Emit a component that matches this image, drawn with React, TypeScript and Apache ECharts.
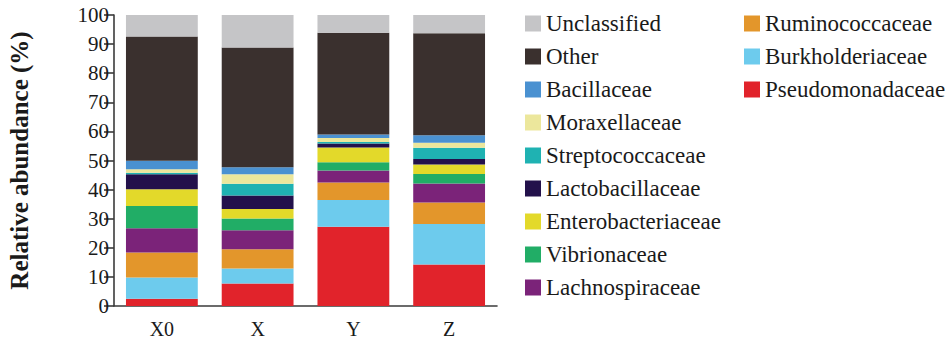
import React, { useEffect, useRef } from "react";
import * as echarts from "echarts";

// Samples on the x axis
const categories = ["X0", "X", "Y", "Z"];

// Relative abundance (%) per family, listed bottom of the stack to top
const pseudomonadaceae = [2.5, 7.7, 27.2, 14.3];
const burkholderiaceae = [7.3, 5.2, 9.2, 13.9];
const ruminococcaceae = [8.6, 6.6, 6.0, 7.4];
const lachnospiraceae = [8.3, 6.5, 4.2, 6.5];
const vibrionaceae = [7.7, 4.1, 2.8, 3.3];
const enterobacteriaceae = [5.7, 3.2, 5.1, 3.2];
const lactobacillaceae = [5.2, 4.7, 1.3, 1.9];
const streptococcaceae = [0.5, 4.0, 0.6, 3.9];
const moraxellaceae = [1.2, 3.3, 1.3, 1.7];
const bacillaceae = [2.9, 2.4, 1.2, 2.6];
const other = [42.7, 41.1, 35.0, 35.0];
const unclassified = [7.4, 11.2, 6.1, 6.3];

const yTicks = [0, 10, 20, 30, 40, 50, 60, 70, 80, 90, 100];

const stackSeries = [
  { name: "Pseudomonadaceae", data: pseudomonadaceae, color: "#e1232b" },
  { name: "Burkholderiaceae", data: burkholderiaceae, color: "#6dcbed" },
  { name: "Ruminococcaceae", data: ruminococcaceae, color: "#e3962b" },
  { name: "Lachnospiraceae", data: lachnospiraceae, color: "#7b2379" },
  { name: "Vibrionaceae", data: vibrionaceae, color: "#21ad66" },
  { name: "Enterobacteriaceae", data: enterobacteriaceae, color: "#e3d92a" },
  { name: "Lactobacillaceae", data: lactobacillaceae, color: "#23114b" },
  { name: "Streptococcaceae", data: streptococcaceae, color: "#1fb2b2" },
  { name: "Moraxellaceae", data: moraxellaceae, color: "#ece79c" },
  { name: "Bacillaceae", data: bacillaceae, color: "#4a91d1" },
  { name: "Other", data: other, color: "#3a302e" },
  { name: "Unclassified", data: unclassified, color: "#c5c5c7" },
];

const legendLeft = [
  "Unclassified",
  "Other",
  "Bacillaceae",
  "Moraxellaceae",
  "Streptococcaceae",
  "Lactobacillaceae",
  "Enterobacteriaceae",
  "Vibrionaceae",
  "Lachnospiraceae",
];
const legendRight = ["Ruminococcaceae", "Burkholderiaceae", "Pseudomonadaceae"];

const FONT = "Liberation Serif";
const TEXT_COLOR = "#1a1a1a";
const AXIS_COLOR = "#3b3b3b";

export default function App() {
  const ref = useRef<HTMLDivElement>(null);

  useEffect(() => {
    if (!ref.current) return;
    const chart = echarts.init(ref.current, undefined, { renderer: "svg" });

    const legendCommon = {
      orient: "vertical" as const,
      top: 7,
      height: 330,
      itemWidth: 16,
      itemHeight: 16,
      itemGap: 10,
      icon: "rect",
      selectedMode: false,
      textStyle: {
        fontFamily: FONT,
        fontSize: 23,
        color: TEXT_COLOR,
      },
    };

    chart.setOption({
      animation: false,
      backgroundColor: "#ffffff",
      grid: {
        left: 114,
        right: 453,
        top: 15,
        bottom: 35,
        containLabel: false,
        outerBoundsMode: "none",
      },
      legend: [
        { ...legendCommon, left: 520, data: legendLeft },
        { ...legendCommon, left: 739, data: legendRight },
      ],
      xAxis: {
        type: "category",
        data: categories,
        axisLine: { lineStyle: { color: AXIS_COLOR, width: 1.6 } },
        axisTick: { alignWithLabel: true, length: 8, lineStyle: { color: AXIS_COLOR, width: 1.6 } },
        axisLabel: { fontFamily: FONT, fontSize: 20, color: TEXT_COLOR, margin: 13 },
      },
      yAxis: {
        type: "value",
        min: yTicks[0],
        max: yTicks[yTicks.length - 1],
        interval: 10,
        name: "Relative abundance (%)",
        nameLocation: "middle",
        nameGap: 82,
        nameTextStyle: { fontFamily: FONT, fontSize: 25, fontWeight: "bold", color: TEXT_COLOR },
        axisLine: { show: true, lineStyle: { color: AXIS_COLOR, width: 1.6 } },
        axisTick: { show: true, length: 10, lineStyle: { color: AXIS_COLOR, width: 1.6 } },
        axisLabel: { fontFamily: FONT, fontSize: 21, color: TEXT_COLOR, margin: 5 },
        splitLine: { show: false },
      },
      series: stackSeries.map((s) => ({
        name: s.name,
        type: "bar",
        stack: "abundance",
        barWidth: "75%",
        data: s.data,
        itemStyle: { color: s.color },
      })),
    });

    return () => chart.dispose();
  }, []);

  return (
    <div
      ref={ref}
      style={{ position: "fixed", left: 0, top: 0, width: 950, height: 341, background: "#fff" }}
    />
  );
}
